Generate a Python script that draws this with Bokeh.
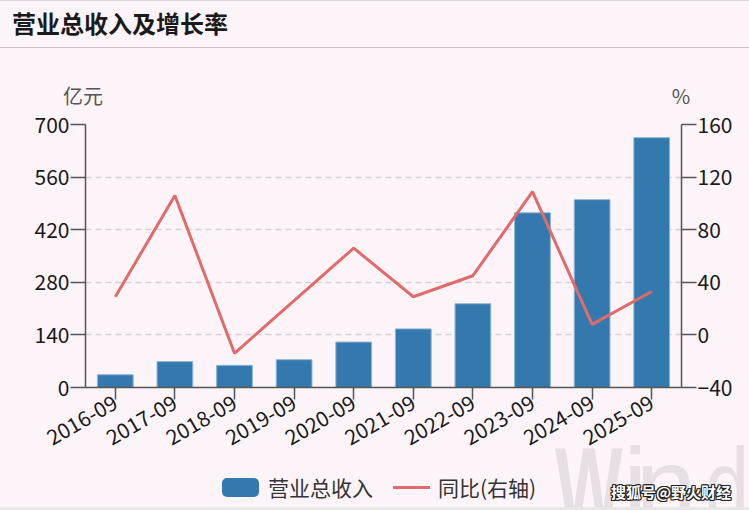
from math import pi
from bokeh.plotting import figure
from bokeh.models import (Div, Range1d, LinearAxis, FixedTicker, FactorRange)
from bokeh.layouts import column
from bokeh.embed import file_html
from bokeh.resources import INLINE

# ---- data ----
periods = ["2016-09", "2017-09", "2018-09", "2019-09", "2020-09",
           "2021-09", "2022-09", "2023-09", "2024-09", "2025-09"]
revenue = [34, 69, 59, 74, 121, 156, 223, 465, 500, 665]          # 亿元
growth = [29, 106, -14, 26, 66, 29, 45, 109, 8, 33]                # %
left_ticks = [0, 140, 280, 420, 560, 700]
right_ticks = [-40, 0, 40, 80, 120, 160]

TITLE = "营业总收入及增长率"
LEFT_UNIT = "亿元"
RIGHT_UNIT = "%"
SERIES_BAR = "营业总收入"
SERIES_LINE = "同比(右轴)"
SOURCE = "搜狐号@野火财经"

W = 749
TOP_H = 112
FIG_H = 398
WM_TOP = 430          # page y where the bottom strip starts
WM_H = 510 - WM_TOP
BG = "#fdf4f9"
FONT = "Noto Sans CJK SC"
BAR = "#3479ae"
LINE = "#e06b6b"
AX = "#555555"

top_html = f"""
<div style="position:relative;width:{W}px;height:{TOP_H}px;background:{BG};overflow:hidden;">
  <div style="position:absolute;left:0;top:0;width:{W}px;height:1px;background:#dcd6da;"></div>
  <div style="position:absolute;left:12px;top:11px;font-family:'{FONT}';font-weight:bold;
       font-size:24px;line-height:1;color:#1a1a1a;white-space:nowrap;">{TITLE}</div>
  <div style="position:absolute;left:0;top:47px;width:{W}px;height:1px;background:#c9c3c8;"></div>
  <div style="position:absolute;left:53px;top:84px;width:60px;text-align:center;font-family:'{FONT}';
       font-size:20px;line-height:1.2;color:#555555;">{LEFT_UNIT}</div>
  <div style="position:absolute;left:651px;top:84px;width:60px;text-align:center;font-family:'{FONT}';
       font-size:20px;line-height:1.2;color:#555555;">{RIGHT_UNIT}</div>
</div>
"""
top = Div(text=top_html, width=W, height=TOP_H, margin=0)

p = figure(x_range=FactorRange(*periods), y_range=Range1d(0, 700),
           width=W, height=FIG_H, output_backend="svg", toolbar_location=None,
           min_border_left=85, min_border_right=68, min_border_top=12,
           min_border_bottom=123, margin=0)
p.background_fill_color = BG
p.border_fill_color = BG
p.outline_line_color = None
p.extra_y_ranges = {"right": Range1d(-40, 160)}

bars = p.vbar(x=periods, top=revenue, width=0.6, fill_color=BAR,
              line_color="#8db6d6", line_width=1)
ln = p.line(x=periods, y=growth, y_range_name="right", line_color=LINE, line_width=3)

# axes
ya = p.yaxis[0]
ya.ticker = FixedTicker(ticks=left_ticks)
ra = LinearAxis(y_range_name="right", ticker=FixedTicker(ticks=right_ticks))
p.add_layout(ra, "right")
for ax in (ya, ra):
    ax.axis_line_color = AX
    ax.axis_line_width = 1.5
    ax.major_tick_line_color = AX
    ax.major_tick_line_width = 1.5
    ax.major_tick_in = 0
    ax.major_tick_out = 15
    ax.minor_tick_line_color = None
    ax.major_label_text_font = FONT
    ax.major_label_text_font_size = "21px"
    ax.major_label_text_color = "#1a1a1a"
    ax.major_label_standoff = 1

xa = p.xaxis[0]
xa.axis_line_color = AX
xa.axis_line_width = 1.5
xa.major_tick_line_color = AX
xa.major_tick_line_width = 1.5
xa.major_tick_in = 0
xa.major_tick_out = 12
xa.minor_tick_line_color = None
xa.major_label_orientation = pi / 6
xa.major_label_text_font = FONT
xa.major_label_text_font_size = "21px"
xa.major_label_text_color = "#1a1a1a"
xa.major_label_standoff = 1

p.xgrid.grid_line_color = None
p.ygrid.grid_line_color = "#d9ced5"
p.ygrid.grid_line_dash = "6 4"
p.ygrid.grid_line_width = 1.5

# bottom strip: legend + watermark, overlapping the figure's bottom margin
WM_COLOR = "#e6dfe4"
bottom_html = f"""
<div style="position:relative;width:{W}px;height:{WM_H}px;pointer-events:none;overflow:hidden;">
  <div style="position:absolute;left:555px;top:{431 - WM_TOP}px;font-family:'Liberation Sans';
       font-size:110px;line-height:1;color:{WM_COLOR};white-space:nowrap;"><span
       style="display:inline-block;width:68px;font-weight:bold;transform:scaleX(0.65);transform-origin:0 0;">W</span><span
       style="display:inline-block;">i</span><span
       style="display:inline-block;margin-left:-12px;">n</span><span
       style="display:inline-block;margin-left:8px;transform:scaleX(0.72);transform-origin:0 0;">d</span></div>
  <div style="position:absolute;left:222px;top:{478 - WM_TOP}px;width:37px;height:19px;
       border-radius:5px;background:{BAR};"></div>
  <div style="position:absolute;left:268px;top:{476 - WM_TOP}px;font-family:'{FONT}';font-size:21px;
       line-height:23px;color:#333333;white-space:nowrap;">{SERIES_BAR}</div>
  <div style="position:absolute;left:393px;top:{486 - WM_TOP}px;width:37px;height:3px;background:{LINE};"></div>
  <div style="position:absolute;left:438px;top:{476 - WM_TOP}px;font-family:'{FONT}';font-size:21px;
       line-height:23px;color:#333333;white-space:nowrap;">{SERIES_LINE}</div>
  <div style="position:absolute;left:611px;top:{483 - WM_TOP}px;font-family:'{FONT}';font-weight:bold;
       font-size:15px;line-height:1.2;color:#ffffff;white-space:nowrap;
       text-shadow:-1px 0 #222,1px 0 #222,0 -1px #222,0 1px #222,-1px -1px #222,1px 1px #222,-1px 1px #222,1px -1px #222;">{SOURCE}</div>
  <div style="position:absolute;left:0;top:{WM_H - 3}px;width:{W}px;height:3px;background:#e9e6e8;"></div>
</div>
"""
bottom = Div(text=bottom_html, width=W, height=WM_H, margin=(-WM_H, 0, 0, 0),
             styles={"pointer-events": "none", "background": "transparent"})

layout = column(top, p, bottom, spacing=0, styles={"background": BG})
open("out.html", "w").write(file_html(layout, INLINE))
